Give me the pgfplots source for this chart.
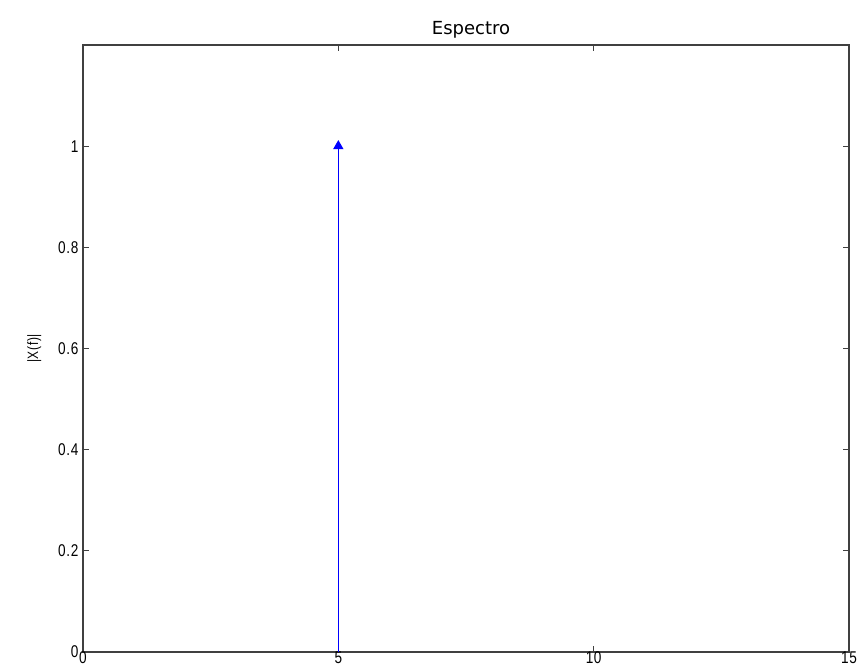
\documentclass[border=0pt]{standalone}
\usepackage{pgfplots}
\pgfplotsset{compat=1.18}
\usepackage{fontspec}
\setmainfont{DejaVu Sans}
\newfontfamily\tickfont[FakeStretch=0.8,LetterSpace=4]{Liberation Sans}
\usetikzlibrary{calc}
\begin{document}
\begin{tikzpicture}
\begin{axis}[
  scale only axis,
  width=766pt, height=607pt,
  xmin=0, xmax=15, ymin=0, ymax=1.2,
  xtick={0,5,10,15},
  ytick={0,0.2,0.4,0.6,0.8,1},
  yticklabels={0,0.2,0.4,0.6,0.8,1},
  tick align=inside,
  tick pos=both,
  major tick length=6pt,
  axis line style={line width=1.5pt, draw=black!75},
  every tick/.style={line width=1pt, black!75},
  tick label style={font=\tickfont\fontsize{17}{17}\selectfont},
  /pgf/number format/assume math mode=true,
  xticklabel style={yshift=4pt},
  yticklabel style={xshift=-1pt},
  title={Espectro},
  title style={font=\fontsize{18}{18}\selectfont, yshift=-3pt, xshift=5pt},
  ylabel={|X(f)|},
  ylabel style={font=\tickfont\fontsize{15}{15}\selectfont, yshift=10pt},
]
\addplot[blue, line width=1.6pt, ycomb, mark=triangle*, mark size=4.5pt, mark options={fill=blue}] coordinates {(5,1)};
\end{axis}
\pgfresetboundingbox
\path[use as bounding box] ($(current axis.south west)+(-83pt,-18pt)$) rectangle ++(861pt,670pt);
\end{tikzpicture}
\end{document}
